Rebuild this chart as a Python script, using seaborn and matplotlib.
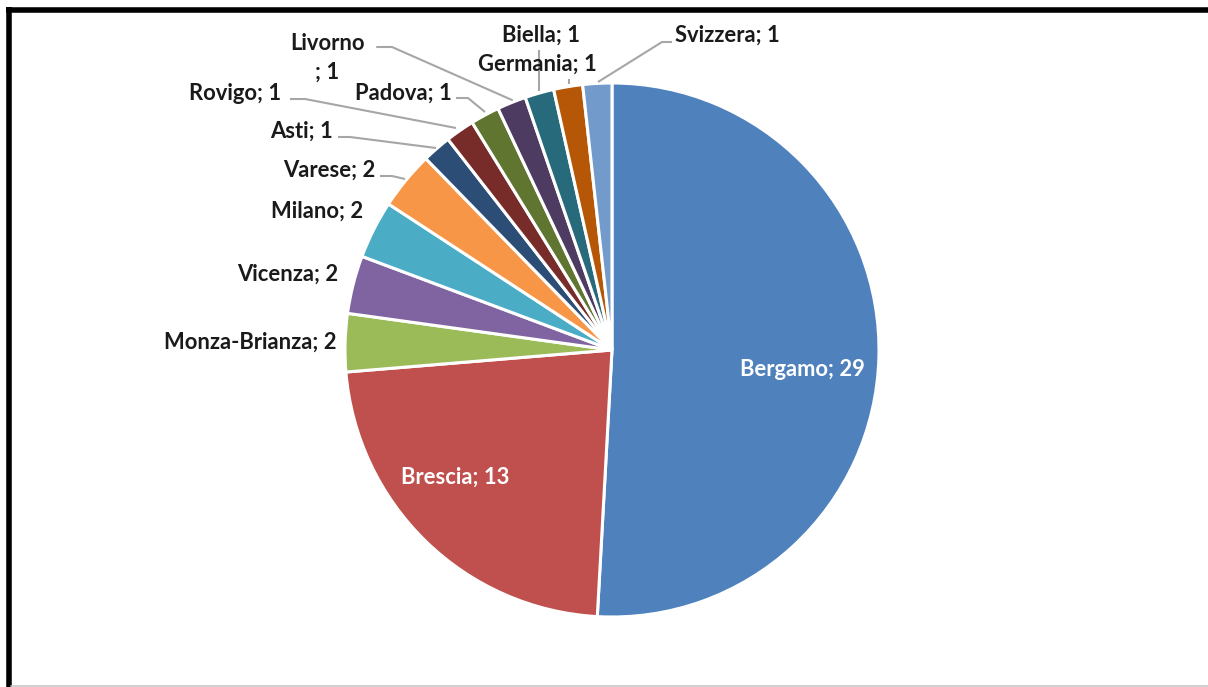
import matplotlib
matplotlib.use("Agg")
import matplotlib.pyplot as plt
import seaborn as sns
from matplotlib.lines import Line2D

sns.set_theme(style="white")
plt.rcParams['font.family'] = ['Lato', 'DejaVu Sans']

labels = ["Bergamo", "Brescia", "Monza-Brianza", "Vicenza", "Milano", "Varese",
          "Asti", "Rovigo", "Padova", "Livorno", "Biella", "Germania", "Svizzera"]
values = [29, 13, 2, 2, 2, 2, 1, 1, 1, 1, 1, 1, 1]
colors = ["#4F81BD", "#C0504D", "#9BBB59", "#8064A2", "#4BACC6", "#F79646",
          "#2C4D75", "#772C2A", "#5F7530", "#4D3B62", "#276A7C", "#B65708", "#729ACA"]
palette = sns.color_palette(colors)

W, H = 1208, 687
fig = plt.figure(figsize=(W / 100, H / 100), dpi=100)
ax = fig.add_axes([0, 0, 1, 1])

def Y(y):
    return H - y

cx, cy, r = 612, 350, 267
ax.pie(values, colors=palette, startangle=90, counterclock=False,
       center=(cx, Y(cy)), radius=r, frame=True,
       wedgeprops=dict(edgecolor="white", linewidth=2.2))
ax.set_xlim(0, W)
ax.set_ylim(0, H)
ax.set_aspect("auto")
ax.axis("off")

fs = 15.8
txt = dict(fontsize=fs, fontweight="bold", color="#1a1a1a")
# inside labels
ax.text(802, Y(369), f"{labels[0]}; {values[0]}", ha="center", va="center",
        fontsize=fs, fontweight="bold", color="white")
ax.text(455, Y(477), f"{labels[1]}; {values[1]}", ha="center", va="center",
        fontsize=fs, fontweight="bold", color="white")

# outside labels: (label index, text x, text y, ha, leader points)
outside = [
    (2, 337, 342, "right", None),
    (3, 338, 274, "right", None),
    (4, 363, 211, "right", None),
    (5, 375, 170, "right", [(380, 176), (392, 176), (405, 179)]),
    (6, 333, 131, "right", [(338, 137), (350, 137), (436, 148)]),
    (7, 281, 94, "right", [(290, 99), (305, 99), (456, 128)]),
    (8, 452, 93, "right", [(456, 98), (468, 98), (485, 112)]),
    (10, 541, 35, "center", [(539, 50), (539, 91)]),
    (11, 537, 64, "center", [(569, 79), (569, 84)]),
    (12, 675, 35, "left", [(672, 42), (662, 42), (598, 82)]),
]
lc = "#A6A6A6"
for i, x, y, ha, pts in outside:
    ax.text(x, Y(y), f"{labels[i]}; {values[i]}", ha=ha, va="center", **txt)
    if pts:
        ax.plot([p[0] for p in pts], [Y(p[1]) for p in pts], color=lc, lw=1.5,
                solid_capstyle="butt")

# Livorno split over two lines
ax.text(327, Y(43), labels[9], ha="center", va="center", **txt)
ax.text(327, Y(72), f"; {values[9]}", ha="center", va="center", **txt)
ax.plot([377, 392, 512], [Y(47), Y(47), Y(100)], color=lc, lw=1.5)

# frame
fig.add_artist(Line2D([6 / W, 1], [Y(9.5) / H, Y(9.5) / H], color="black", lw=4,
                      solid_capstyle="butt"))
fig.add_artist(Line2D([8.5 / W, 8.5 / W], [0, Y(7) / H], color="black", lw=4,
                      solid_capstyle="butt"))
fig.add_artist(Line2D([11 / W, 1], [Y(686) / H, Y(686) / H], color="#C8C8C8", lw=1.2))

fig.savefig("out.png", dpi=100)
